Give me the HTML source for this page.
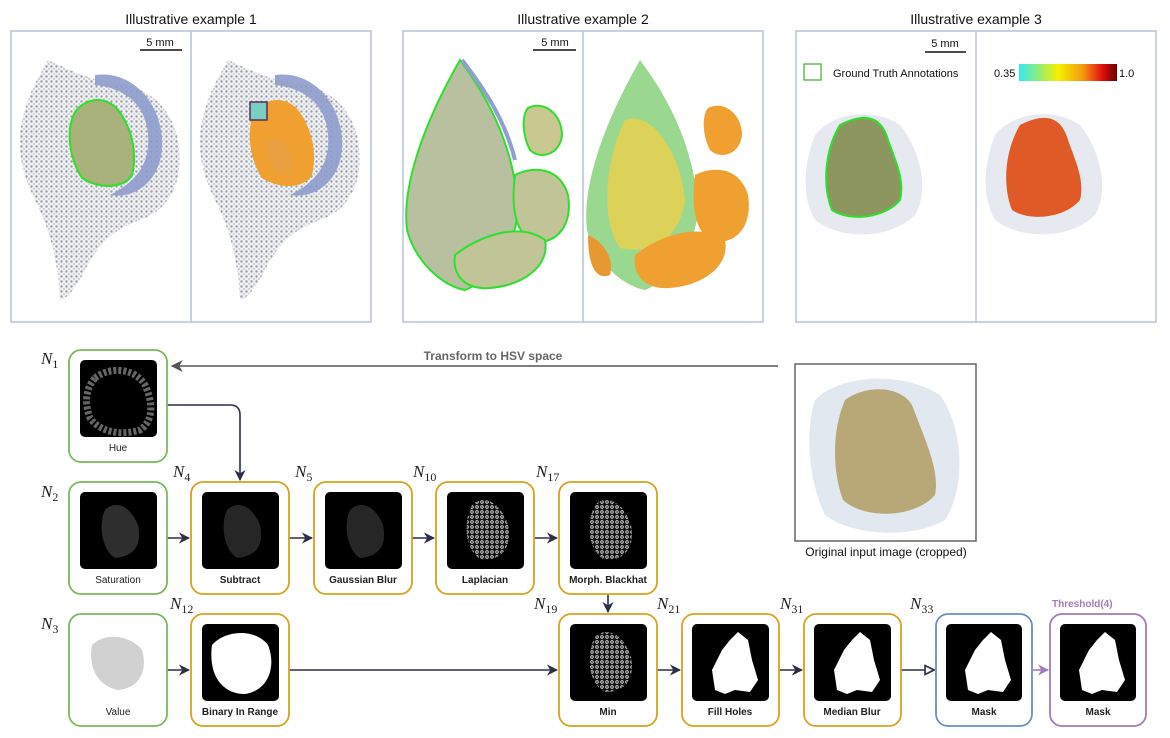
<!DOCTYPE html>
<html><head><meta charset="utf-8"><style>
html,body{margin:0;padding:0;background:#fff;}
svg{display:block;}
.t{font-family:"Liberation Sans",sans-serif;}
.lbl{font-family:"Liberation Sans",sans-serif;font-size:10px;fill:#222;text-anchor:middle;}
.b{font-weight:bold;}
.n{font-family:"Liberation Serif",serif;font-style:italic;font-size:17px;fill:#222;}
.n tspan{font-style:normal;font-size:12px;}
</style></head><body>
<svg width="1170" height="738" viewBox="0 0 1170 738" xmlns="http://www.w3.org/2000/svg">
<defs>
<marker id="ar" viewBox="0 0 10 10" refX="9" refY="5" markerWidth="7" markerHeight="7" orient="auto"><path d="M0,0 L10,5 L0,10 L3,5z" fill="#2b2f4a"/></marker>
<marker id="arg" viewBox="0 0 10 10" refX="9" refY="5" markerWidth="8" markerHeight="8" orient="auto"><path d="M0,0 L10,5 L0,10 L3,5z" fill="#555"/></marker>
<marker id="aro" viewBox="0 0 10 10" refX="9" refY="5" markerWidth="7" markerHeight="7" orient="auto"><path d="M1,1 L9,5 L1,9z" fill="#fff" stroke="#2b2f4a" stroke-width="1.5"/></marker>
<marker id="arp" viewBox="0 0 10 10" refX="9" refY="5" markerWidth="7" markerHeight="7" orient="auto"><path d="M0,0 L10,5 L0,10 L3,5z" fill="#a07cb8"/></marker>
<pattern id="tis" width="5" height="5" patternUnits="userSpaceOnUse"><rect width="5" height="5" fill="#f0f1f3"/><circle cx="1.5" cy="1.5" r="1.2" fill="#9a9da5"/><circle cx="4" cy="4" r="0.9" fill="#b8bbc2"/></pattern>
<pattern id="lap" width="5" height="5" patternUnits="userSpaceOnUse"><rect width="5" height="5" fill="#111"/><circle cx="2" cy="2" r="1.3" fill="none" stroke="#eee" stroke-width="0.8"/></pattern>
<linearGradient id="cb" x1="0" x2="1"><stop offset="0" stop-color="#30e8f0"/><stop offset="0.4" stop-color="#f5f000"/><stop offset="0.65" stop-color="#f59a10"/><stop offset="0.85" stop-color="#e01010"/><stop offset="1" stop-color="#6a0000"/></linearGradient>
</defs>

<text class="t" x="191" y="24" font-size="14" text-anchor="middle" fill="#111">Illustrative example 1</text>
<text class="t" x="583" y="24" font-size="14" text-anchor="middle" fill="#111">Illustrative example 2</text>
<text class="t" x="976" y="24" font-size="14" text-anchor="middle" fill="#111">Illustrative example 3</text>

<g fill="none" stroke="#b8c4d8" stroke-width="1.5">
<rect x="11" y="31" width="360" height="291"/><line x1="191" y1="31" x2="191" y2="322"/>
<rect x="403" y="31" width="360" height="291"/><line x1="583" y1="31" x2="583" y2="322"/>
<rect x="796" y="31" width="360" height="291"/><line x1="976" y1="31" x2="976" y2="322"/>
</g>
<g class="t" font-size="11" fill="#111" text-anchor="middle">
<text x="160" y="46">5 mm</text><line x1="140" y1="50" x2="182" y2="50" stroke="#111" stroke-width="1.5"/>
<text x="555" y="46">5 mm</text><line x1="533" y1="50" x2="576" y2="50" stroke="#111" stroke-width="1.5"/>
<text x="945" y="47">5 mm</text><line x1="925" y1="52" x2="966" y2="52" stroke="#111" stroke-width="1.5"/>
</g>

<!-- Example 1 left -->
<path d="M48,60 C70,70 90,80 110,82 C140,85 170,100 178,140 C185,180 170,210 140,220 C110,230 95,250 85,270 C75,290 65,300 60,300 C58,260 50,230 35,200 C20,170 15,140 25,110 C30,90 40,75 48,60z" fill="url(#tis)"/>
<path d="M95,75 C130,70 160,100 162,140 C164,175 140,200 110,195 C140,180 150,160 148,135 C146,105 125,88 95,85z" fill="#8e9ccc" opacity="0.9"/>
<path d="M75,112 C85,98 105,95 118,110 C130,125 138,150 132,175 C125,188 100,190 82,178 C70,160 65,130 75,112z" fill="#a8b27a" stroke="#2ee02e" stroke-width="2"/>
<!-- Example 1 right -->
<path d="M228,60 C250,70 270,80 290,82 C320,85 350,100 358,140 C365,180 350,210 320,220 C290,230 275,250 265,270 C255,290 245,300 240,300 C238,260 230,230 215,200 C200,170 195,140 205,110 C210,90 220,75 228,60z" fill="url(#tis)"/>
<path d="M275,75 C310,70 340,100 342,140 C344,175 320,200 290,195 C320,180 330,160 328,135 C326,105 305,88 275,85z" fill="#8e9ccc" opacity="0.9"/>
<path d="M255,112 C265,98 285,95 298,110 C310,125 318,150 312,175 C305,188 280,190 262,178 C250,160 245,130 255,112z" fill="#f0a030"/>
<path d="M265,140 C280,135 295,150 292,170 C280,180 268,172 265,140z" fill="#e8a040"/>
<rect x="250" y="102" width="17" height="18" fill="#7ad0c0" stroke="#5a2a5a" stroke-width="1.5"/>

<!-- Example 2 left -->
<path d="M460,60 C490,100 515,150 518,210 C515,250 490,280 465,290 C440,285 415,260 407,230 C402,190 420,130 460,60z" fill="#b8c0a0" stroke="#2ee02e" stroke-width="2"/>
<path d="M462,60 C485,90 505,120 515,160" fill="none" stroke="#8fa0d0" stroke-width="4"/>
<path d="M528,108 C545,100 562,115 562,135 C560,155 540,160 530,150 C522,135 522,115 528,108z" fill="#c8c890" stroke="#2ee02e" stroke-width="2"/>
<path d="M515,175 C535,165 560,168 568,195 C572,220 562,240 540,242 C518,240 510,215 515,175z" fill="#c0c496" stroke="#2ee02e" stroke-width="2"/>
<path d="M455,255 C480,235 520,222 545,240 C550,265 525,285 490,288 C465,290 452,275 455,255z" fill="#c0c496" stroke="#2ee02e" stroke-width="2"/>
<!-- Example 2 right -->
<path d="M640,60 C670,100 695,150 698,210 C695,250 670,280 645,290 C620,285 595,260 587,230 C582,190 600,130 640,60z" fill="#9ad890"/>
<path d="M625,120 C650,110 680,150 685,200 C680,240 650,255 620,248 C600,220 605,160 625,120z" fill="#e8d050" opacity="0.85"/>
<path d="M708,108 C725,100 742,115 742,135 C740,155 720,160 710,150 C702,135 702,115 708,108z" fill="#f0a030"/>
<path d="M695,175 C715,165 740,168 748,195 C752,220 742,240 720,242 C698,240 690,215 695,175z" fill="#f0a030"/>
<path d="M635,255 C660,235 700,222 725,240 C730,265 705,285 670,288 C645,290 632,275 635,255z" fill="#f0a030"/>
<path d="M588,235 C600,240 615,255 610,275 C598,280 588,270 588,235z" fill="#e89830"/>

<!-- Example 3 -->
<rect x="804" y="64" width="17" height="16" fill="none" stroke="#6ab85a" stroke-width="1.5"/>
<text class="t" x="833" y="77" font-size="11" fill="#111">Ground Truth Annotations</text>
<text class="t" x="994" y="77" font-size="11" fill="#111">0.35</text>
<rect x="1019" y="64" width="98" height="17" fill="url(#cb)"/>
<text class="t" x="1119" y="77" font-size="11" fill="#111">1.0</text>
<path d="M815,135 C830,115 870,105 900,125 C920,150 930,190 915,215 C890,240 840,240 815,220 C800,195 805,160 815,135z" fill="#e6eaf0"/>
<path d="M840,125 C860,115 880,112 888,140 C895,160 905,180 900,200 C885,218 850,222 832,210 C822,185 825,150 840,125z" fill="#8e9660" stroke="#2ee02e" stroke-width="2"/>
<path d="M995,135 C1010,115 1050,105 1080,125 C1100,150 1110,190 1095,215 C1070,240 1020,240 995,220 C980,195 985,160 995,135z" fill="#e6eaf0"/>
<path d="M1020,125 C1040,115 1060,112 1068,140 C1075,160 1085,180 1080,200 C1065,218 1030,222 1012,210 C1002,185 1005,150 1020,125z" fill="#e05a28"/>

<line x1="778" y1="366" x2="172" y2="366" stroke="#555" stroke-width="1.5" marker-end="url(#arg)"/>
<text class="t b" x="493" y="360" font-size="12" text-anchor="middle" fill="#666" font-weight="bold">Transform to HSV space</text>

<rect x="795" y="364" width="181" height="177" fill="#fff" stroke="#666" stroke-width="1.5"/>
<path d="M815,400 C840,375 900,370 940,395 C965,430 965,490 945,520 C910,540 850,535 825,515 C808,480 805,430 815,400z" fill="#e2e8f0"/>
<path d="M845,400 C865,385 900,385 912,405 C925,440 940,470 935,495 C915,518 865,520 843,500 C832,470 832,430 845,400z" fill="#b8a878"/>
<text class="t" x="886" y="556" font-size="12" text-anchor="middle" fill="#111">Original input image (cropped)</text>

<g fill="none" stroke="#2b2f4a" stroke-width="1.6">
<path d="M167,405 L230,405 Q240,405 240,415 L240,480" marker-end="url(#ar)"/>
<line x1="167" y1="538" x2="189" y2="538" marker-end="url(#ar)"/>
<line x1="289" y1="538" x2="312" y2="538" marker-end="url(#ar)"/>
<line x1="412" y1="538" x2="434" y2="538" marker-end="url(#ar)"/>
<line x1="534" y1="538" x2="557" y2="538" marker-end="url(#ar)"/>
<line x1="608" y1="594" x2="608" y2="612" marker-end="url(#ar)"/>
<line x1="167" y1="670" x2="189" y2="670" marker-end="url(#ar)"/>
<line x1="289" y1="670" x2="557" y2="670" marker-end="url(#ar)"/>
<line x1="657" y1="670" x2="680" y2="670" marker-end="url(#ar)"/>
<line x1="779" y1="670" x2="802" y2="670" marker-end="url(#ar)"/>
<line x1="901" y1="670" x2="934" y2="670" marker-end="url(#aro)"/>
</g>
<line x1="1032" y1="670" x2="1048" y2="670" stroke="#a07cb8" stroke-width="1.6" marker-end="url(#arp)"/>

<g stroke-width="1.8" fill="#fff">
<rect x="69" y="350" width="98" height="112" rx="12" stroke="#7ab85e"/>
<rect x="69" y="482" width="98" height="112" rx="12" stroke="#7ab85e"/>
<rect x="69" y="614" width="98" height="112" rx="12" stroke="#7ab85e"/>
<rect x="191" y="482" width="98" height="112" rx="12" stroke="#d9a21e"/>
<rect x="314" y="482" width="98" height="112" rx="12" stroke="#d9a21e"/>
<rect x="436" y="482" width="98" height="112" rx="12" stroke="#d9a21e"/>
<rect x="559" y="482" width="98" height="112" rx="12" stroke="#d9a21e"/>
<rect x="191" y="614" width="98" height="112" rx="12" stroke="#d9a21e"/>
<rect x="559" y="614" width="98" height="112" rx="12" stroke="#d9a21e"/>
<rect x="682" y="614" width="97" height="112" rx="12" stroke="#d9a21e"/>
<rect x="804" y="614" width="97" height="112" rx="12" stroke="#d9a21e"/>
<rect x="936" y="614" width="96" height="112" rx="12" stroke="#6a8fc4"/>
<rect x="1050" y="614" width="96" height="112" rx="12" stroke="#a07cb8"/>
</g>
<g fill="#000">
<rect x="80" y="360" width="77" height="77" rx="5"/>
<rect x="80" y="492" width="77" height="77" rx="5"/>
<rect x="202" y="492" width="77" height="77" rx="5"/>
<rect x="325" y="492" width="77" height="77" rx="5"/>
<rect x="447" y="492" width="77" height="77" rx="5"/>
<rect x="570" y="492" width="77" height="77" rx="5"/>
<rect x="202" y="624" width="77" height="77" rx="5"/>
<rect x="570" y="624" width="77" height="77" rx="5"/>
<rect x="692" y="624" width="77" height="77" rx="5"/>
<rect x="814" y="624" width="77" height="77" rx="5"/>
<rect x="946" y="624" width="76" height="77" rx="5"/>
<rect x="1060" y="624" width="76" height="77" rx="5"/>
</g>
<path d="M95,378 C110,366 135,368 145,385 C152,400 155,420 140,430 C120,436 100,432 90,418 C84,402 86,388 95,378z" fill="none" stroke="#666" stroke-width="7" stroke-dasharray="3 2"/>
<path d="M105,510 C115,500 130,505 138,525 C142,545 135,556 115,558 C102,550 98,525 105,510z" fill="#2e2e2e"/>
<path d="M227,510 C237,500 252,505 260,525 C264,545 257,556 237,558 C224,550 220,525 227,510z" fill="#262626"/>
<path d="M350,510 C360,500 375,505 383,525 C387,545 380,556 360,558 C347,550 343,525 350,510z" fill="#262626"/>
<path d="M472,505 C482,495 500,500 508,525 C512,548 502,560 482,560 C466,552 462,525 472,505z" fill="url(#lap)"/>
<path d="M595,505 C605,495 623,500 631,525 C635,548 625,560 605,560 C589,552 585,525 595,505z" fill="url(#lap)"/>
<path d="M595,637 C605,627 623,632 631,657 C635,680 625,692 605,692 C589,684 585,657 595,637z" fill="url(#lap)"/>
<path d="M92,645 C105,632 130,635 142,650 C148,670 140,688 118,690 C98,686 88,668 92,645z" fill="#bdbdbd" opacity="0.7"/>
<path d="M212,645 C225,630 255,628 268,645 C276,665 270,690 245,694 C222,694 208,675 212,645z" fill="#fff"/>
<g fill="#fff">
<path d="M715,690 L712,670 722,650 730,640 738,632 748,640 752,660 758,680 750,692 735,690 725,694z"/>
<path d="M837,690 L834,670 844,650 852,640 860,632 870,640 874,660 880,680 872,692 857,690 847,694z"/>
<path d="M968,690 L965,670 975,650 983,640 991,632 1001,640 1005,660 1011,680 1003,692 988,690 978,694z"/>
<path d="M1082,690 L1079,670 1089,650 1097,640 1105,632 1115,640 1119,660 1125,680 1117,692 1102,690 1092,694z"/>
</g>
<text class="lbl" x="118" y="451">Hue</text>
<text class="lbl" x="118" y="583">Saturation</text>
<text class="lbl" x="118" y="715">Value</text>
<text class="lbl b" x="240" y="583">Subtract</text>
<text class="lbl b" x="363" y="583">Gaussian Blur</text>
<text class="lbl b" x="485" y="583">Laplacian</text>
<text class="lbl b" x="608" y="583">Morph. Blackhat</text>
<text class="lbl b" x="240" y="715">Binary In Range</text>
<text class="lbl b" x="608" y="715">Min</text>
<text class="lbl b" x="730" y="715">Fill Holes</text>
<text class="lbl b" x="852" y="715">Median Blur</text>
<text class="lbl b" x="984" y="715">Mask</text>
<text class="lbl b" x="1098" y="715">Mask</text>
<text class="t" x="1052" y="607" font-size="10" font-weight="bold" fill="#a07cb8">Threshold(4)</text>

<text class="n" x="41" y="364">N<tspan dy="4">1</tspan></text>
<text class="n" x="41" y="497">N<tspan dy="4">2</tspan></text>
<text class="n" x="41" y="629">N<tspan dy="4">3</tspan></text>
<text class="n" x="173" y="477">N<tspan dy="4">4</tspan></text>
<text class="n" x="295" y="477">N<tspan dy="4">5</tspan></text>
<text class="n" x="413" y="477">N<tspan dy="4">10</tspan></text>
<text class="n" x="536" y="477">N<tspan dy="4">17</tspan></text>
<text class="n" x="170" y="609">N<tspan dy="4">12</tspan></text>
<text class="n" x="534" y="609">N<tspan dy="4">19</tspan></text>
<text class="n" x="657" y="609">N<tspan dy="4">21</tspan></text>
<text class="n" x="780" y="609">N<tspan dy="4">31</tspan></text>
<text class="n" x="910" y="609">N<tspan dy="4">33</tspan></text>
</svg>
</body></html>
